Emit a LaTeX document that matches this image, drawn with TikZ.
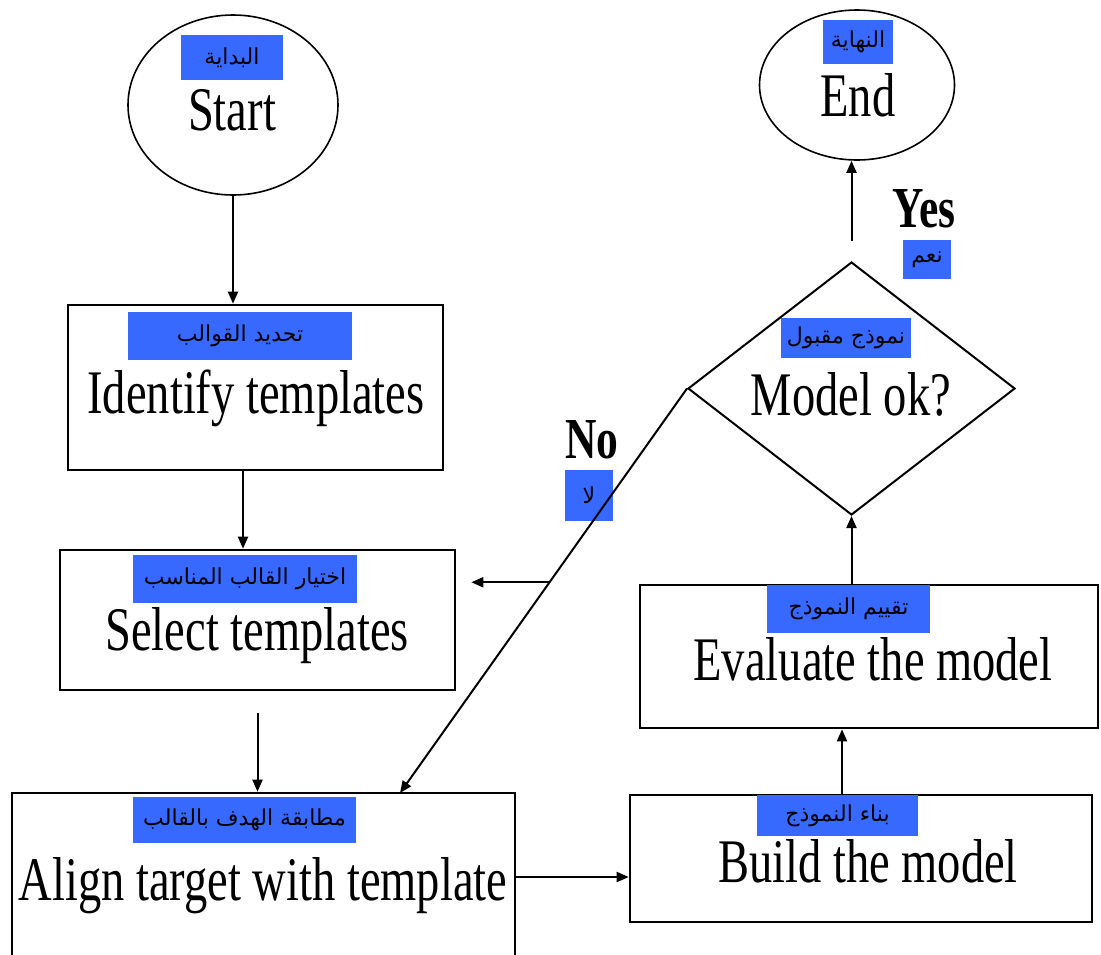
\documentclass[tikz,border=0pt]{standalone}
\usepackage{fontspec}
\setmainfont{Liberation Serif}
\newfontfamily\arabicfont[Script=Arabic]{DejaVu Sans}
\TeXXeTstate=1
\usetikzlibrary{shapes.geometric,arrows.meta,calc}
\definecolor{tagblue}{RGB}{55,105,255}
\newcommand{\sq}[1]{\scalebox{0.75}[1]{#1}}
\newcommand{\ar}[1]{\beginR #1\endR}
\begin{document}
\begin{tikzpicture}[x=0.5pt,y=-0.5pt,
  box/.style={draw, rectangle, line width=1.3pt, inner sep=0pt},
  oval/.style={draw, ellipse, line width=0.8pt, inner sep=0pt},
  tag/.style={fill=tagblue, inner sep=0pt, font=\arabicfont\fontsize{11}{11}\selectfont},
  en/.style={anchor=base, inner sep=0pt, font=\fontsize{31}{31}\selectfont},
  yn/.style={anchor=base, inner sep=0pt, font=\bfseries\fontsize{29}{29}\selectfont},
  arr/.style={-{Triangle[length=6pt,width=5pt]}, line width=1pt}]
\useasboundingbox (0,0) rectangle (1101,954);
\fill[white] (0,0) rectangle (1101,954);
\clip (0,0) rectangle (1101,954);

% shapes
\node[oval, minimum width=105pt, minimum height=90pt] (start) at (233,105) {};
\node[oval, minimum width=97.5pt, minimum height=75pt] (endn) at (857,85) {};
\node[box, minimum width=187.5pt, minimum height=82.5pt] (ident) at (255.5,387.5) {};
\node[box, minimum width=197.5pt, minimum height=70pt] (sel) at (257.5,620) {};
\node[box, minimum width=251.5pt, minimum height=84pt] (align) at (263.5,877) {};
\node[box, minimum width=231pt, minimum height=63.5pt] (build) at (861,858.5) {};
\node[box, minimum width=229pt, minimum height=71.5pt] (eval) at (869,656.5) {};
\node[draw, diamond, line width=1pt, inner sep=0pt, minimum width=163.5pt, minimum height=126.5pt] (dia) at (851.5,388.5) {};

% Arabic tags
\node[tag, minimum width=51pt, minimum height=22.5pt] (tstart) at (232,57.5) {\ar{البداية}};
\node[tag, minimum width=35pt, minimum height=22pt] (tend) at (858,42) {\ar{النهاية}};
\node[tag, minimum width=112pt, minimum height=24pt] (tident) at (240,336) {\ar{تحديد القوالب}};
\node[tag, minimum width=112pt, minimum height=24pt] (tsel) at (245,579) {\ar{اختيار القالب المناسب}};
\node[tag, minimum width=111.5pt, minimum height=23pt] (talign) at (244.5,820) {\ar{مطابقة الهدف بالقالب}};
\node[tag, minimum width=80.5pt, minimum height=20.5pt] (tbuild) at (837.5,815.5) {\ar{بناء النموذج}};
\node[tag, minimum width=81.5pt, minimum height=24pt] (teval) at (848.5,609) {\ar{تقييم النموذج}};
\node[tag, minimum width=65pt, minimum height=20pt] (tdia) at (846,338) {\ar{نموذج مقبول}};
\node[tag, minimum width=24pt, minimum height=19.5pt] (tyes) at (927,259.5) {\ar{نعم}};
\node[tag, minimum width=24pt, minimum height=25.5pt] (tno) at (589,495.5) {\ar{لا}};

% English labels
\node[en] (lstart) at (232,130) {\sq{Start}};
\node[en] (lend) at (858,116) {\sq{End}};
\node[en] (lident) at (256,413) {\sq{Identify templates}};
\node[en] (lsel) at (257,650) {\sq{Select templates}};
\node[en] (lalign) at (263,900) {\sq{Align target with template}};
\node[en] (lbuild) at (868,882) {\sq{Build the model}};
\node[en] (leval) at (873,680) {\sq{Evaluate the model}};
\node[en] (ldia) at (851,415) {\sq{Model ok?}};
\node[yn] (lyes) at (924,227) {\sq{Yes}};
\node[yn] (lno) at (592,458) {\sq{No}};

% connectors
\coordinate (nohit) at (400,793);
\coordinate (br) at ($(dia.west)!0.479!(nohit)$);
\draw[arr] (start.south) -- (start.south |- ident.north);
\draw[arr] ([xshift=-6.25pt]ident.south) -- ([xshift=-6.25pt]ident.south |- sel.north);
\draw[arr] ([yshift=-11pt]sel.south) -- (sel.south |- align.north);
\draw[arr] (align.east) -- (align.east -| build.west);
\draw[arr] ([xshift=-9.5pt]build.north) -- ([xshift=-9.5pt]build.north |- eval.south);
\draw[arr] (eval.north -| dia.south) -- (dia.south);
\draw[arr] ([yshift=10pt]dia.north) -- (dia.north |- endn.south);
\draw[arr] (dia.west) -- (nohit);
\draw[arr] (br) -- ([xshift=7.5pt]br -| sel.east);
\end{tikzpicture}
\end{document}
